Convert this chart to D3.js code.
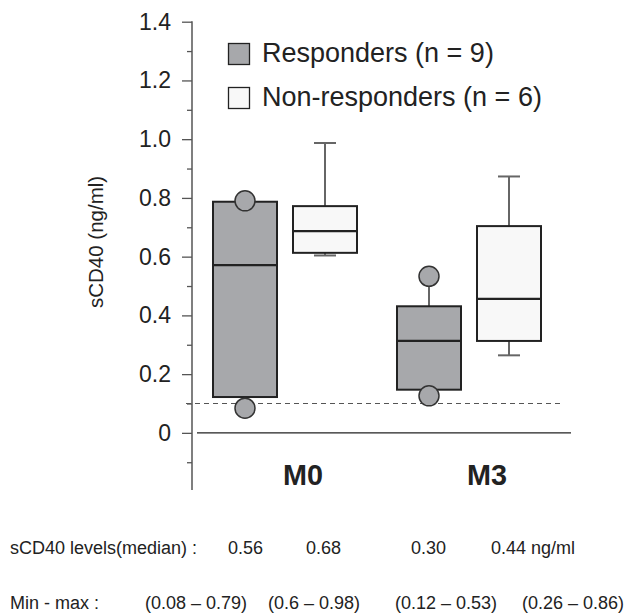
<!DOCTYPE html>
<html>
<head>
<meta charset="utf-8">
<script src="https://cdn.jsdelivr.net/npm/d3@7"></script>
<style>
  html, body { margin: 0; padding: 0; background: #fff; }
  svg { display: block; font-family: "Liberation Sans", Arial, Helvetica, sans-serif; }
</style>
</head>
<body>
<svg id="chart" width="630" height="613"></svg>
<script>
// ---- data ----
const groups = ["M0", "M3"];
const seriesNames = ["Responders (n = 9)", "Non-responders (n = 6)"];
const seriesKeys = ["Responders", "Non-responders"];
// box statistics per group, per series
const respQ1 = [0.122, 0.147];
const respMedian = [0.571, 0.313];
const respQ3 = [0.787, 0.431];
const respMin = [0.084, 0.126];
const respMax = [0.790, 0.533];
const nonQ1 = [0.613, 0.313];
const nonMedian = [0.687, 0.456];
const nonQ3 = [0.772, 0.704];
const nonMin = [0.604, 0.264];
const nonMax = [0.987, 0.873];
const yTicks = [0, 0.2, 0.4, 0.6, 0.8, 1.0, 1.2, 1.4];
const yTickLabels = ["0", "0.2", "0.4", "0.6", "0.8", "1.0", "1.2", "1.4"];
const minorTicks = [-0.1, 0.1, 0.3, 0.5, 0.7, 0.9, 1.1, 1.3];
const thresholdValue = 0.1;
const medianRowTitle = "sCD40 levels(median) :";
const medianLabels = ["0.56", "0.68", "0.30", "0.44 ng/ml"];
const rangeRowTitle = "Min - max :";
const rangeLabels = ["(0.08 – 0.79)", "(0.6 – 0.98)", "(0.12 – 0.53)", "(0.26 – 0.86)"];

// ---- build table ----
const boxes = [];
groups.forEach((g, i) => {
  boxes.push({group: g, key: "Responders", q1: respQ1[i], med: respMedian[i], q3: respQ3[i], lo: respMin[i], hi: respMax[i], dots: true});
  boxes.push({group: g, key: "Non-responders", q1: nonQ1[i], med: nonMedian[i], q3: nonQ3[i], lo: nonMin[i], hi: nonMax[i], dots: false});
});

const svg = d3.select("#chart");
const gray = "#a7a8ab";
const white = "#f8f8f8";
const dark = "#222";

const y = d3.scaleLinear().domain([-0.2, 1.4]).range([491.6, 21.7]);
const x0 = d3.scaleBand().domain(groups).range([193, 561]);
const x1 = d3.scaleBand().domain(seriesKeys).range([0, x0.bandwidth()]).paddingInner(0.2).paddingOuter(0.25);
const fill = d3.scaleOrdinal().domain(seriesKeys).range([gray, white]);

// ---- y axis ----
const axisX = 192;
const yAxis = svg.append("g").attr("transform", `translate(${axisX},0)`)
  .call(d3.axisLeft(y).tickValues(yTicks).tickFormat((d, i) => yTickLabels[i]).tickSize(10).tickPadding(11))
  .call(g => g.select(".domain").remove());
yAxis.selectAll(".tick line").attr("stroke", "#555").attr("stroke-width", 1.3);
yAxis.selectAll(".tick text").attr("font-size", 23).attr("fill", dark)
  .attr("font-family", "Liberation Sans, Arial, sans-serif");
svg.append("g").attr("transform", `translate(${axisX},0)`)
  .call(d3.axisLeft(y).tickValues(minorTicks).tickFormat("").tickSize(5))
  .call(g => g.select(".domain").remove())
  .selectAll(".tick line").attr("stroke", "#555").attr("stroke-width", 1.3);
svg.append("line").attr("x1", axisX).attr("x2", axisX).attr("y1", y(1.4) - 0.5).attr("y2", 490)
  .attr("stroke", "#555").attr("stroke-width", 1.5);

// y label
svg.append("text")
  .attr("transform", `translate(103,${y(0.65)}) rotate(-90)`)
  .attr("text-anchor", "middle")
  .attr("font-size", 20.5).attr("fill", dark)
  .text("sCD40 (ng/ml)");

// zero line
svg.append("line").attr("x1", 197).attr("x2", 571).attr("y1", y(0)).attr("y2", y(0))
  .attr("stroke", dark).attr("stroke-width", 1.4);
// threshold dashed line
svg.append("line").attr("x1", 186).attr("x2", 560).attr("y1", y(thresholdValue)).attr("y2", y(thresholdValue))
  .attr("stroke", "#555").attr("stroke-width", 1.2).attr("stroke-dasharray", "5,4");

// ---- boxes ----
const bw = x1.bandwidth();
const bx = d => x0(d.group) + x1(d.key);
const cx = d => bx(d) + bw / 2;
const capW = 22;

const bg = svg.append("g");
// whiskers
boxes.forEach(d => {
  if (d.dots) {
    bg.append("line").attr("x1", cx(d)).attr("x2", cx(d)).attr("y1", y(d.q3)).attr("y2", y(d.hi))
      .attr("stroke", "#666").attr("stroke-width", 2);
  } else {
    bg.append("line").attr("x1", cx(d)).attr("x2", cx(d)).attr("y1", y(d.q3)).attr("y2", y(d.hi))
      .attr("stroke", "#666").attr("stroke-width", 2);
    bg.append("line").attr("x1", cx(d)).attr("x2", cx(d)).attr("y1", y(d.q1)).attr("y2", y(d.lo))
      .attr("stroke", "#666").attr("stroke-width", 2);
    [d.hi, d.lo].forEach(v => bg.append("line").attr("x1", cx(d) - capW / 2).attr("x2", cx(d) + capW / 2)
      .attr("y1", y(v)).attr("y2", y(v)).attr("stroke", "#666").attr("stroke-width", 2));
  }
});
bg.selectAll("rect.box").data(boxes).join("rect").attr("class", "box")
  .attr("x", bx).attr("width", bw)
  .attr("y", d => y(d.q3)).attr("height", d => y(d.q1) - y(d.q3))
  .attr("fill", d => fill(d.key)).attr("stroke", dark).attr("stroke-width", 2);
bg.selectAll("line.med").data(boxes).join("line").attr("class", "med")
  .attr("x1", bx).attr("x2", d => bx(d) + bw)
  .attr("y1", d => y(d.med)).attr("y2", d => y(d.med))
  .attr("stroke", dark).attr("stroke-width", 2.2);
// dots
const dots = [];
boxes.filter(d => d.dots).forEach(d => { dots.push({d, v: d.hi}); dots.push({d, v: d.lo}); });
bg.selectAll("circle").data(dots).join("circle")
  .attr("cx", p => cx(p.d)).attr("cy", p => y(p.v)).attr("r", 10)
  .attr("fill", gray).attr("stroke", "#333").attr("stroke-width", 1.5);

// ---- x labels ----
svg.selectAll("text.xl").data(groups).join("text").attr("class", "xl")
  .attr("x", g => x0(g) + x0.bandwidth() / 2 + 18).attr("y", 485)
  .attr("text-anchor", "middle").attr("font-size", 29).attr("font-weight", "bold")
  .attr("fill", dark).attr("textLength", 40).attr("lengthAdjust", "spacingAndGlyphs")
  .text(g => g);

// ---- legend ----
const leg = svg.append("g");
seriesKeys.forEach((k, i) => {
  const ly = 43.5 + i * 44;
  leg.append("rect").attr("x", 228.5).attr("y", ly).attr("width", 21).attr("height", 21)
    .attr("fill", fill(k)).attr("stroke", dark).attr("stroke-width", 1.3);
  leg.append("text").attr("x", 262).attr("y", ly + 18.5).attr("font-size", 27).attr("fill", dark)
    .text(seriesNames[i]);
});

// ---- bottom rows ----
const medianX = [228, 306, 411, 491];
const rangeX = [145, 268, 395, 522];
svg.append("text").attr("x", 10).attr("y", 554).attr("font-size", 18).attr("fill", dark).text(medianRowTitle);
svg.selectAll("text.ml").data(medianLabels).join("text").attr("class", "ml")
  .attr("x", (d, i) => medianX[i]).attr("y", 554).attr("font-size", 18).attr("fill", dark).text(d => d);
svg.append("text").attr("x", 10).attr("y", 609).attr("font-size", 18).attr("fill", dark).text(rangeRowTitle);
svg.selectAll("text.rl").data(rangeLabels).join("text").attr("class", "rl")
  .attr("x", (d, i) => rangeX[i]).attr("y", 609).attr("font-size", 18).attr("fill", dark).text(d => d);
</script>
</body>
</html>
